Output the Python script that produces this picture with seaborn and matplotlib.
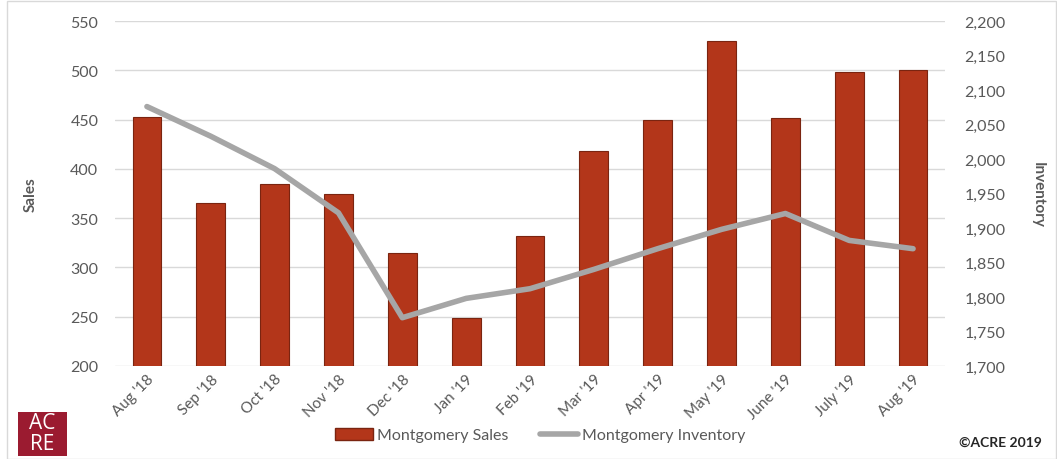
import numpy as np
import pandas as pd
import matplotlib.pyplot as plt
import seaborn as sns
from matplotlib.patches import Rectangle
from matplotlib.lines import Line2D
from matplotlib.ticker import FuncFormatter

# Data
months = ["Aug '18", "Sep '18", "Oct '18", "Nov '18", "Dec '18", "Jan '19", "Feb '19",
          "Mar '19", "Apr '19", "May '19", "June '19", "July '19", "Aug '19"]
sales = [453, 365, 385, 374, 315, 249, 332, 418, 450, 530, 452, 498, 500]
inventory = [2076, 2033, 1986, 1922, 1770, 1798, 1812, 1840, 1870, 1898, 1921, 1882, 1870]

df = pd.DataFrame({'Month': months, 'Sales': sales, 'Inventory': inventory})

sns.set_style('white')
plt.rcParams['font.family'] = ['Lato', 'DejaVu Sans']

bar_color = '#B3361A'
line_color = '#A6A6A6'
text_color = '#595959'

fig = plt.figure(figsize=(10.57, 4.6), dpi=100)
ax = fig.add_axes([115 / 1057, 1 - 367 / 460, 830 / 1057, 345 / 460])

sns.barplot(data=df, x='Month', y='Sales', color=bar_color, width=0.45,
            edgecolor='#7A2410', linewidth=0.8, saturation=1, ax=ax)
ax.set_ylim(200, 550)
ax.set_yticks(np.arange(200, 551, 50))
ax.yaxis.grid(True, color='#D9D9D9', linewidth=1)
ax.set_axisbelow(True)
ax.set_xlim(-0.5, len(months) - 0.5)
ax.set_xlabel('')
ax.set_ylabel('Sales', fontsize=11, fontweight='bold', color=text_color)
ax.yaxis.set_label_coords(-0.093, 0.5)
ax.tick_params(axis='y', labelsize=11.5, labelcolor=text_color, length=0, pad=12)
ax.tick_params(axis='x', labelsize=11, labelcolor=text_color, length=0, pad=4)
for lab in ax.get_xticklabels():
    lab.set_rotation(45)
    lab.set_ha('right')
    lab.set_rotation_mode('anchor')
for s in ax.spines.values():
    s.set_visible(False)

ax2 = ax.twinx()
sns.lineplot(data=df, x='Month', y='Inventory', color=line_color, linewidth=4,
             sort=False, ax=ax2)
ax2.set_ylim(1700, 2200)
ax2.set_yticks(np.arange(1700, 2201, 50))
ax2.yaxis.set_major_formatter(FuncFormatter(lambda v, p: f'{int(v):,}'))
ax2.set_ylabel('Inventory', fontsize=11, fontweight='bold', color=text_color,
               rotation=270, va='center')
ax2.yaxis.set_label_coords(1.112, 0.5)
ax2.tick_params(axis='y', labelsize=11.5, labelcolor=text_color, length=0, pad=14)
ax2.set_xlabel('')
for s in ax2.spines.values():
    s.set_visible(False)

# Legend
handles = [Rectangle((0, 0), 1, 1, facecolor=bar_color, edgecolor='#7A2410'),
           Line2D([0], [0], color=line_color, linewidth=4)]
fig.legend(handles, ['Montgomery Sales', 'Montgomery Inventory'], loc='center',
           bbox_to_anchor=(540 / 1057, 1 - 436 / 460), ncol=2, frameon=False,
           fontsize=11.5, labelcolor=text_color, handlelength=2.4, handletextpad=0.2,
           columnspacing=2.0, handleheight=0.8)

# Frame around the chart
fig.add_artist(Rectangle((7 / 1057, 0), 1 - 8 / 1057, 1 - 2 / 460,
                         transform=fig.transFigure, fill=False,
                         edgecolor='#D9D9D9', linewidth=1))

# ACRE logo
fig.add_artist(Rectangle((18 / 1057, 1 - 457 / 460), 49 / 1057, 44 / 460,
                         transform=fig.transFigure, facecolor='#9B1B30',
                         edgecolor='none'))
fig.text(42.5 / 1057, 1 - 424 / 460, 'AC', color='white', fontsize=15,
         fontweight='medium', ha='center', va='center',
         family=['Open Sans', 'DejaVu Sans'])
fig.text(42.5 / 1057, 1 - 445 / 460, 'RE', color='white', fontsize=15,
         fontweight='medium', ha='center', va='center',
         family=['Open Sans', 'DejaVu Sans'])

fig.text(1042 / 1057, 1 - 443 / 460, '©ACRE 2019', fontsize=10, fontweight='bold',
         color='#262626', ha='right', va='center')

fig.savefig('out.png', dpi=100)
